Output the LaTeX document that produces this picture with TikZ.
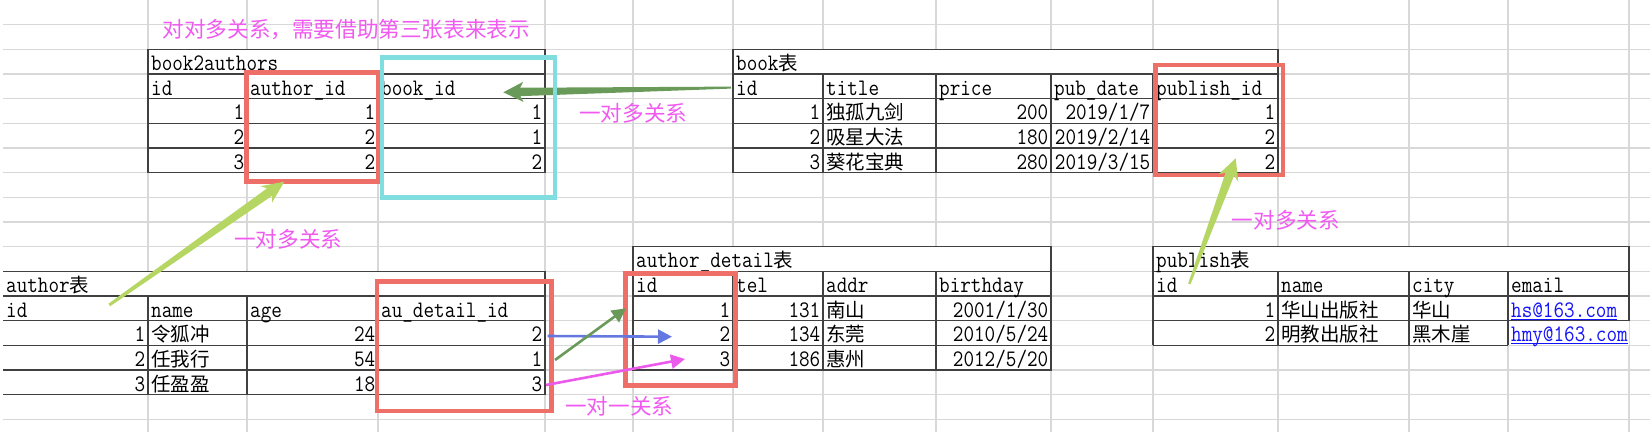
\documentclass[tikz,border=0pt]{standalone}
\usepackage{fontspec}
\usepackage{graphicx}
\newfontfamily\cjk{Noto Sans CJK SC}
\usetikzlibrary{arrows.meta,calc}
\definecolor{gridc}{RGB}{216,216,216}
\definecolor{bordc}{RGB}{64,64,64}
\definecolor{redc}{RGB}{238,110,104}
\definecolor{cyanc}{RGB}{128,222,224}
\definecolor{annoc}{RGB}{240,90,240}
\definecolor{dgreen}{RGB}{106,154,90}
\definecolor{lgreen}{RGB}{182,214,100}
\definecolor{bluec}{RGB}{100,120,224}
\definecolor{magc}{RGB}{236,90,236}
\definecolor{linkc}{RGB}{20,20,250}
\newcommand\lt[1]{\scalebox{1}[1.15]{#1}}
\newcommand\zh[1]{{\fontsize{19.5}{20}\selectfont\cjk #1}}
\newcommand\zr[1]{\scalebox{1}[0.8696]{\zh{#1}}}
\newcommand\cellL[4]{\node[cellt,anchor=base west] (#1) at ({#2+3},{24.67*(#3+1)-3.6}) {\lt{#4}};}
\newcommand\cellR[4]{\node[cellt,anchor=base east] (#1) at ({#2-2.5},{24.67*(#3+1)-3.6}) {\lt{#4}};}
\newcommand\cellZ[4]{\node[cellt,anchor=base west] (#1) at ({#2+3},{24.67*(#3+1)-3.6}) {\zh{#4}};}
\newcommand\Y[1]{24.67*(#1)}
% #1 tail, #2 tip, #3 half tail width, #4 half shaft width, #5 head length, #6 half head width, #7 junction distance, #8 colour
\newcommand\wedgearrow[8]{%
  \coordinate (#1-hb) at ($(#2)!#5!(#1)$);
  \coordinate (#1-hj) at ($(#2)!#7!(#1)$);
  \fill[#8] ($(#1)!#3!90:(#2)$) -- ($(#1-hj)!#4!-90:(#1)$) -- ($(#1-hb)!#6!-90:(#1)$) -- (#2)
    -- ($(#1-hb)!#6!90:(#1)$) -- ($(#1-hj)!#4!90:(#1)$) -- ($(#1)!#3!-90:(#2)$) -- cycle;}
\begin{document}
\begin{tikzpicture}[x=1pt,y=-1pt,
  gridl/.style={draw=gridc,line width=1.4pt},
  bord/.style={draw=bordc,line width=1.4pt},
  redb/.style={draw=redc,line width=4.5pt},
  cyanb/.style={draw=cyanc,line width=4.5pt},
  cellt/.style={inner sep=0pt,font=\fontsize{20.57}{22}\selectfont\ttfamily},
  anno/.style={inner sep=0pt,text=annoc,font=\fontsize{21.6}{24}\selectfont\cjk},
  thinarrow/.style={line width=2.6pt,-{Triangle[length=14pt,width=14pt]}}]
\useasboundingbox (0,0) rectangle (1650,432);
\fill[white] (0,0) rectangle (1650,432);
% spreadsheet grid
\foreach \k in {1,...,17} \draw[gridl] (3,{\Y{\k}}) -- (1650,{\Y{\k}});
\foreach \x in {148,247,378,545,633,733,823,936,1051,1153,1278,1409,1508,1629} \draw[gridl] (\x,0) -- (\x,432);
% book2authors
\fill[white] (148,{\Y2}) rectangle (545,{\Y7});
\draw[bord] (148,{\Y2}) rectangle (545,{\Y7});
\foreach \k in {3,...,6} \draw[bord] (148,{\Y{\k}}) -- (545,{\Y{\k}});
\foreach \x in {247,378} \draw[bord] (\x,{\Y3}) -- (\x,{\Y7});
% book
\fill[white] (733,{\Y2}) rectangle (1278,{\Y7});
\draw[bord] (733,{\Y2}) rectangle (1278,{\Y7});
\foreach \k in {3,...,6} \draw[bord] (733,{\Y{\k}}) -- (1278,{\Y{\k}});
\foreach \x in {823,936,1051,1153} \draw[bord] (\x,{\Y3}) -- (\x,{\Y7});
% author
\fill[white] (3,{\Y{11}}) rectangle (545,{\Y{16}});
\draw[bord] (3,{\Y{11}}) -- (545,{\Y{11}}) -- (545,{\Y{16}}) -- (3,{\Y{16}});
\foreach \k in {12,...,15} \draw[bord] (3,{\Y{\k}}) -- (545,{\Y{\k}});
\foreach \x in {148,247,378} \draw[bord] (\x,{\Y{12}}) -- (\x,{\Y{16}});
% author_detail
\fill[white] (633,{\Y{10}}) rectangle (1051,{\Y{15}});
\draw[bord] (633,{\Y{10}}) rectangle (1051,{\Y{15}});
\foreach \k in {11,...,14} \draw[bord] (633,{\Y{\k}}) -- (1051,{\Y{\k}});
\foreach \x in {733,823,936} \draw[bord] (\x,{\Y{11}}) -- (\x,{\Y{15}});
% publish
\fill[white] (1153,{\Y{10}}) rectangle (1629,{\Y{14}});
\draw[gridl] (1508,{\Y{14}}) -- (1650,{\Y{14}});
\draw[bord] (1153,{\Y{14}}) -- (1153,{\Y{10}}) -- (1629,{\Y{10}}) -- (1629,{\Y{13}});
\foreach \k in {11,12,13} \draw[bord] (1153,{\Y{\k}}) -- (1629,{\Y{\k}});
\draw[bord] (1153,{\Y{14}}) -- (1508,{\Y{14}});
\foreach \x in {1278,1409,1508} \draw[bord] (\x,{\Y{11}}) -- (\x,{\Y{14}});
% cells: book2authors
\cellL{ba-t}{148}{2}{book2authors}
\cellL{ba-h1}{148}{3}{id}
\cellL{ba-h2}{247}{3}{author\_id}
\cellL{ba-h3}{378}{3}{book\_id}
\cellR{ba-11}{247}{4}{1}\cellR{ba-12}{378}{4}{1}\cellR{ba-13}{545}{4}{1}
\cellR{ba-21}{247}{5}{2}\cellR{ba-22}{378}{5}{2}\cellR{ba-23}{545}{5}{1}
\cellR{ba-31}{247}{6}{3}\cellR{ba-32}{378}{6}{2}\cellR{ba-33}{545}{6}{2}
% cells: book
\cellL{bk-t}{733}{2}{book\zr{表}}
\cellL{bk-h1}{733}{3}{id}\cellL{bk-h2}{823}{3}{title}\cellL{bk-h3}{936}{3}{price}
\cellL{bk-h4}{1051}{3}{pub\_date}\cellL{bk-h5}{1153}{3}{publish\_id}
\cellR{bk-11}{823}{4}{1}\cellZ{bk-12}{823}{4}{独孤九剑}\cellR{bk-13}{1051}{4}{200}\cellR{bk-14}{1153}{4}{2019/1/7}\cellR{bk-15}{1278}{4}{1}
\cellR{bk-21}{823}{5}{2}\cellZ{bk-22}{823}{5}{吸星大法}\cellR{bk-23}{1051}{5}{180}\cellR{bk-24}{1153}{5}{2019/2/14}\cellR{bk-25}{1278}{5}{2}
\cellR{bk-31}{823}{6}{3}\cellZ{bk-32}{823}{6}{葵花宝典}\cellR{bk-33}{1051}{6}{280}\cellR{bk-34}{1153}{6}{2019/3/15}\cellR{bk-35}{1278}{6}{2}
% cells: author
\cellL{au-t}{3}{11}{author\zr{表}}
\cellL{au-h1}{3}{12}{id}\cellL{au-h2}{148}{12}{name}\cellL{au-h3}{247}{12}{age}\cellL{au-h4}{378}{12}{au\_detail\_id}
\cellR{au-11}{148}{13}{1}\cellZ{au-12}{148}{13}{令狐冲}\cellR{au-13}{378}{13}{24}\cellR{au-14}{545}{13}{2}
\cellR{au-21}{148}{14}{2}\cellZ{au-22}{148}{14}{任我行}\cellR{au-23}{378}{14}{54}\cellR{au-24}{545}{14}{1}
\cellR{au-31}{148}{15}{3}\cellZ{au-32}{148}{15}{任盈盈}\cellR{au-33}{378}{15}{18}\cellR{au-34}{545}{15}{3}
% cells: author_detail
\cellL{ad-t}{633}{10}{author\_detail\zr{表}}
\cellL{ad-h1}{633}{11}{id}\cellL{ad-h2}{733}{11}{tel}\cellL{ad-h3}{823}{11}{addr}\cellL{ad-h4}{936}{11}{birthday}
\cellR{ad-11}{733}{12}{1}\cellR{ad-12}{823}{12}{131}\cellZ{ad-13}{823}{12}{南山}\cellR{ad-14}{1051}{12}{2001/1/30}
\cellR{ad-21}{733}{13}{2}\cellR{ad-22}{823}{13}{134}\cellZ{ad-23}{823}{13}{东莞}\cellR{ad-24}{1051}{13}{2010/5/24}
\cellR{ad-31}{733}{14}{3}\cellR{ad-32}{823}{14}{186}\cellZ{ad-33}{823}{14}{惠州}\cellR{ad-34}{1051}{14}{2012/5/20}
% cells: publish
\cellL{pb-t}{1153}{10}{publish\zr{表}}
\cellL{pb-h1}{1153}{11}{id}\cellL{pb-h2}{1278}{11}{name}\cellL{pb-h3}{1409}{11}{city}\cellL{pb-h4}{1508}{11}{email}
\cellR{pb-11}{1278}{12}{1}\cellZ{pb-12}{1278}{12}{华山出版社}\cellZ{pb-13}{1409}{12}{华山}
\node[cellt,anchor=base west,text=linkc] (pb-14) at (1511,{\Y{13}-3.6}) {\lt{hs@163.com}};
\cellR{pb-21}{1278}{13}{2}\cellZ{pb-22}{1278}{13}{明教出版社}\cellZ{pb-23}{1409}{13}{黑木崖}
\node[cellt,anchor=base west,text=linkc] (pb-24) at (1511,{\Y{14}-3.6}) {\lt{hmy@163.com}};
\draw[linkc,line width=1.2pt] ($(pb-14.base west)+(0,2)$) -- ($(pb-14.base east)+(0,2)$);
\draw[linkc,line width=1.2pt] ($(pb-24.base west)+(0,2)$) -- ($(pb-24.base east)+(0,2)$);
% highlight boxes
\draw[redb] (246.5,72.3) rectangle (378.5,181.7);
\draw[redb] (1155.5,65) rectangle (1283,175);
\draw[redb] (377,281.7) rectangle (551.7,411);
\draw[redb] (625.3,273.5) rectangle (735.5,385.3);
% arrow endpoints
\coordinate (ga) at (731,87.6);
\coordinate (gb) at (503.3,92.3);
\coordinate (la) at (109.3,305);
\coordinate (lb) at (284.3,181.7);
\coordinate (pa) at (1189.3,284);
\coordinate (pb) at (1235.7,158.3);
\coordinate (bla) at (547.7,336);
\coordinate (blb) at (672,336.7);
\coordinate (gra) at (555,360);
\coordinate (grb) at (626,308.3);
\coordinate (mga) at (546,385);
\coordinate (mgb) at (685,359);
\wedgearrow{ga}{gb}{1pt}{4.2pt}{20pt}{10pt}{17pt}{dgreen}
\draw[cyanb] (382,57.7) rectangle (555,197.7);
\wedgearrow{la}{lb}{1.5pt}{4.5pt}{22pt}{10pt}{18pt}{lgreen}
\wedgearrow{pa}{pb}{1.2pt}{4.5pt}{21pt}{10.5pt}{17pt}{lgreen}
\draw[thinarrow,draw=bluec,fill=bluec] (bla) -- (blb);
\draw[thinarrow,draw=dgreen,fill=dgreen] (gra) -- (grb);
\draw[thinarrow,draw=magc,fill=magc] (mga) -- (mgb);
% annotations
\node[anno,anchor=west] (n1) at (162.5,30) {对对多关系，需要借助第三张表来表示};
\node[anno,anchor=west] (n2) at (579,113.3) {一对多关系};
\node[anno,anchor=west] (n3) at (234,239) {一对多关系};
\node[anno,anchor=west] (n4) at (1231.7,220) {一对多关系};
\node[anno,anchor=west] (n5) at (565,406.7) {一对一关系};
\end{tikzpicture}
\end{document}
